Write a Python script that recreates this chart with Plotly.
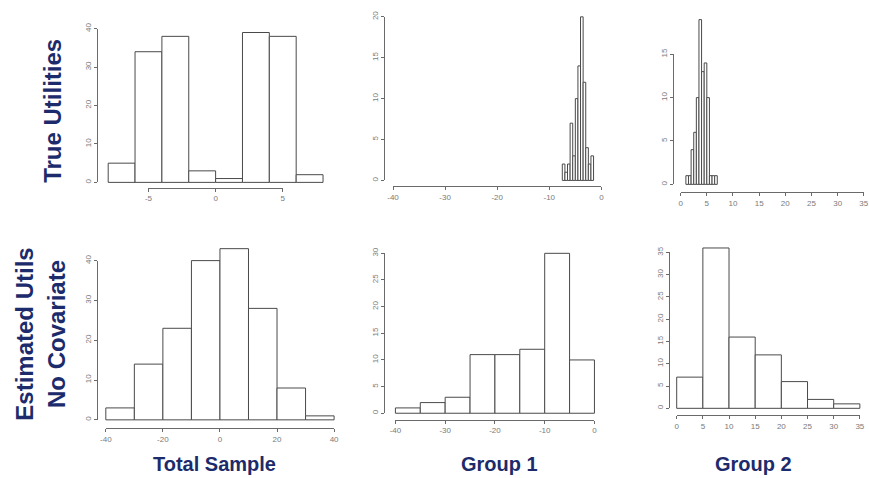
import plotly.graph_objects as go

# ---------------- data ----------------
row_labels = ["True Utilities", "Estimated Utils<br>No Covariate"]
col_labels = ["Total Sample", "Group 1", "Group 2"]

true_total_edges = [-8, -6, -4, -2, 0, 2, 4, 6, 8]
true_total_counts = [5, 34, 38, 3, 1, 39, 38, 2]

true_g1_edges = [-7.5, -7.0, -6.5, -6.0, -5.5, -5.0, -4.5, -4.0, -3.5, -3.0, -2.5, -2.0, -1.5]
true_g1_counts = [2, 1, 2, 7, 3, 10, 14, 20, 12, 4, 2, 3]

true_g2_edges = [1.0, 1.5, 2.0, 2.5, 3.0, 3.5, 4.0, 4.5, 5.0, 5.5, 6.0, 6.5, 7.0]
true_g2_counts = [1, 1, 4, 6, 10, 19, 13, 14, 10, 1, 1, 1]

est_total_edges = [-40, -30, -20, -10, 0, 10, 20, 30, 40]
est_total_counts = [3, 14, 23, 40, 43, 28, 8, 1]

est_g1_edges = [-40, -35, -30, -25, -20, -15, -10, -5, 0]
est_g1_counts = [1, 2, 3, 11, 11, 12, 30, 10]

est_g2_edges = [0, 5, 10, 15, 20, 25, 30, 35]
est_g2_counts = [7, 36, 16, 12, 6, 2, 1]

tt_xticks = [-5, 0, 5]
tt_yticks = [0, 10, 20, 30, 40]
tg1_xticks = [-40, -30, -20, -10, 0]
tg1_yticks = [0, 5, 10, 15, 20]
tg2_xticks = [0, 5, 10, 15, 20, 25, 30, 35]
tg2_yticks = [0, 5, 10, 15]
et_xticks = [-40, -20, 0, 20, 40]
et_yticks = [0, 10, 20, 30, 40]
eg1_xticks = [-40, -30, -20, -10, 0]
eg1_yticks = [0, 5, 10, 15, 20, 25, 30]
eg2_xticks = [0, 5, 10, 15, 20, 25, 30, 35]
eg2_yticks = [0, 5, 10, 15, 20, 25, 30, 35]

# ---------------- layout geometry (pixels) ----------------
W, H = 869, 478
def xp(px):
    return px / W
def yp(py):
    return 1 - py / H

panels = [
    dict(edges=true_total_edges, counts=true_total_counts, xmap=(212.3, 13.6), ymap=(179.0, 3.9),
         xr=(-8.6, 8.6), yr=(-0.3, 41.5), xt=tt_xticks, yt=tt_yticks, xline=184.3, yline=92.3),
    dict(edges=true_g1_edges, counts=true_g1_counts, xmap=(603.0, 5.275), ymap=(177.0, 8.3),
         xr=(-41, 1), yr=(-0.3, 21), xt=tg1_xticks, yt=tg1_yticks, xline=183.0, yline=383.3),
    dict(edges=true_g2_edges, counts=true_g2_counts, xmap=(683.3, 5.30), ymap=(181.0, 8.8),
         xr=(-1, 12), yr=(-0.3, 20), xt=tg2_xticks, yt=tg2_yticks, xline=189.0, yline=676.0),
    dict(edges=est_total_edges, counts=est_total_counts, xmap=(216.7, 2.89), ymap=(420.0, 4.04),
         xr=(-41, 41), yr=(-0.3, 45), xt=et_xticks, yt=et_yticks, xline=428.3, yline=92.3),
    dict(edges=est_g1_edges, counts=est_g1_counts, xmap=(596.0, 5.04), ymap=(413.3, 5.41),
         xr=(-41, 1), yr=(-0.3, 31), xt=eg1_xticks, yt=eg1_yticks, xline=420.0, yline=383.3),
    dict(edges=est_g2_edges, counts=est_g2_counts, xmap=(679.3, 5.30), ymap=(408.3, 4.52),
         xr=(-1, 35.5), yr=(-0.3, 37), xt=eg2_xticks, yt=eg2_yticks, xline=415.0, yline=671.7),
]

AXIS_COL = "#6a6a6a"
BAR_LINE = "#4a4a4a"
TICK_FONT = dict(family="Liberation Sans, Arial, sans-serif", size=8, color="#7a7a7a")
TITLE_COL = "#1c2b6b"

fig = go.Figure()
layout = {}

def aname(letter, k):
    return f"{letter}axis" if k == 1 else f"{letter}axis{k}"

def aref(letter, k):
    return letter if k == 1 else f"{letter}{k}"

for i, p in enumerate(panels):
    k = i + 1
    d = i + 7
    ax, bx = p["xmap"]
    ay, by = p["ymap"]
    edges, counts = p["edges"], p["counts"]
    centers = [(a + b) / 2 for a, b in zip(edges[:-1], edges[1:])]
    widths = [b - a for a, b in zip(edges[:-1], edges[1:])]
    fig.add_trace(go.Bar(
        x=centers, y=counts, width=widths,
        marker=dict(color="white", line=dict(color=BAR_LINE, width=1)),
        xaxis=aref("x", k), yaxis=aref("y", k), showlegend=False, hoverinfo="x+y"))
    layout[aname("x", k)] = dict(
        domain=[xp(ax + bx * p["xr"][0]), xp(ax + bx * p["xr"][1])],
        range=list(p["xr"]), visible=False, anchor=aref("y", k))
    layout[aname("y", k)] = dict(
        domain=[yp(ay - by * p["yr"][0]), yp(ay - by * p["yr"][1])],
        range=list(p["yr"]), visible=False, anchor=aref("x", k))
    xt, yt = p["xt"], p["yt"]
    fig.add_trace(go.Scatter(x=[None], y=[None], xaxis=aref("x", d), yaxis=aref("y", d),
                             showlegend=False, hoverinfo="skip"))
    layout[aname("x", d)] = dict(
        domain=[xp(ax + bx * xt[0]), min(1.0, xp(ax + bx * xt[-1]))],
        range=[xt[0], xt[-1]], anchor="free", position=yp(p["xline"]),
        tickmode="array", tickvals=xt, ticktext=[str(v) for v in xt],
        showline=True, linecolor=AXIS_COL, linewidth=1, ticks="outside", ticklen=3,
        tickcolor=AXIS_COL, tickwidth=1, showgrid=False, zeroline=False,
        tickfont=TICK_FONT, fixedrange=True)
    layout[aname("y", d)] = dict(
        domain=[yp(ay - by * yt[0]), yp(ay - by * yt[-1])],
        range=[yt[0], yt[-1]], anchor="free", position=xp(p["yline"]),
        tickmode="array", tickvals=yt, ticktext=[str(v) for v in yt],
        showline=True, linecolor=AXIS_COL, linewidth=1, ticks="outside", ticklen=3,
        tickcolor=AXIS_COL, tickwidth=1, showgrid=False, zeroline=False,
        tickfont=TICK_FONT, tickangle=-90, fixedrange=True)

title_font = dict(family="Liberation Sans, Arial, sans-serif", size=24, color=TITLE_COL)
col_font = dict(family="Liberation Sans, Arial, sans-serif", size=20, color=TITLE_COL)

annotations = [
    dict(text=f"<b>{row_labels[0]}</b>", x=xp(47), y=yp(106), xref="paper", yref="paper",
         textangle=-90, showarrow=False, font=title_font, xanchor="center", yanchor="middle"),
    dict(text="<b>" + row_labels[1].replace("<br>", "</b><br><b>") + "</b>", x=xp(35), y=yp(333),
         xref="paper", yref="paper", textangle=-90, showarrow=False, font=title_font,
         xanchor="center", yanchor="middle"),
]
for lab, cx in zip(col_labels, [211, 500, 757]):
    annotations.append(dict(text=f"<b>{lab}</b>", x=xp(cx), y=yp(465), xref="paper", yref="paper",
                            showarrow=False, font=col_font, xanchor="center", yanchor="middle"))

fig.update_layout(
    width=W, height=H, autosize=False,
    margin=dict(l=0, r=0, t=0, b=0, pad=0),
    paper_bgcolor="white", plot_bgcolor="rgba(0,0,0,0)",
    barmode="overlay", annotations=annotations, **layout)

fig.write_html("out.html", config={"displayModeBar": False},
               post_script="document.body.style.margin='0';document.body.style.overflow='hidden';")
